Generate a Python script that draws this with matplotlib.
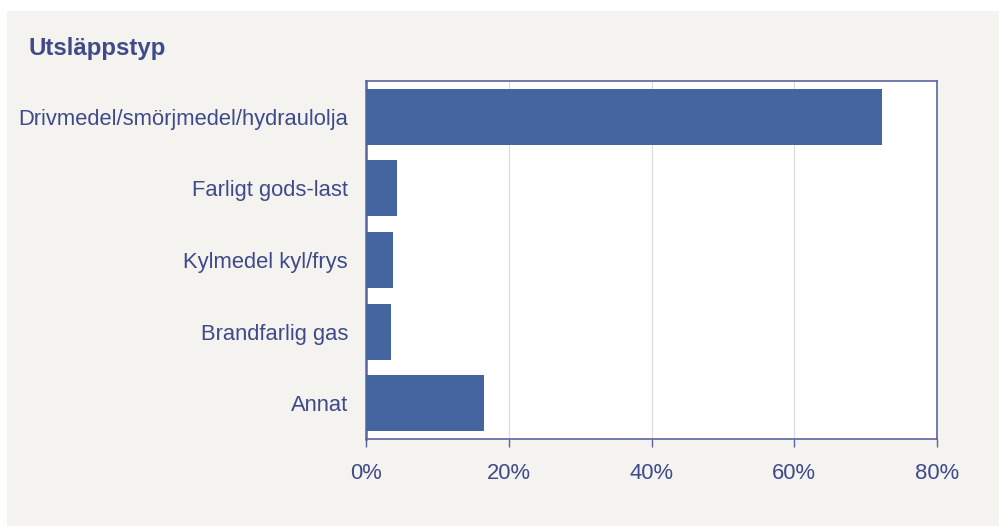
import matplotlib.pyplot as plt
import numpy as np

categories = ['Drivmedel/smörjmedel/hydraulolja', 'Farligt gods-last',
              'Kylmedel kyl/frys', 'Brandfarlig gas', 'Annat']
values = [72.3, 4.3, 3.8, 3.5, 16.5]
xticks = [0, 20, 40, 60, 80]
xtick_labels = ['0%', '20%', '40%', '60%', '80%']

bar_color = '#4565A0'
text_color = '#3F4A8A'
spine_color = '#5C64A0'
panel_color = '#F4F3EF'

plt.rcParams['font.family'] = ['Liberation Sans', 'DejaVu Sans']

fig = plt.figure(figsize=(9.99, 5.26), dpi=100)
fig.patch.set_facecolor('white')

# beige panel behind the chart
panel = plt.Rectangle((7 / 999, 0), 1 - 7 / 999, 1 - 11 / 526,
                      transform=fig.transFigure, facecolor=panel_color,
                      edgecolor='none', zorder=-10)
fig.patches.append(panel)

ax = fig.add_axes([366 / 999, 1 - 439 / 526, (937 - 366) / 999, (439 - 81) / 526])
ax.set_zorder(1)
ax.set_facecolor('white')

y = np.arange(len(categories))
ax.barh(y, values, height=0.78, color=bar_color, zorder=3)

ax.set_xlim(0, 80)
ax.set_ylim(len(categories) - 0.5, -0.5)
ax.set_xticks(xticks)
ax.set_xticklabels(xtick_labels)
ax.set_yticks(y)
ax.set_yticklabels(categories)

ax.grid(axis='x', color='#DCDCDC', linewidth=0.9, zorder=1)
ax.set_axisbelow(True)

for side in ['left', 'bottom', 'top', 'right']:
    ax.spines[side].set_color(spine_color)
    ax.spines[side].set_linewidth(1.2)
ax.spines['left'].set_linewidth(1.8)

ax.tick_params(axis='x', length=6, width=1, color=spine_color,
               colors=text_color, labelsize=15.8, pad=11)
ax.tick_params(axis='y', length=0, colors=text_color, labelsize=15.8, pad=13)
for lbl in ax.get_xticklabels() + ax.get_yticklabels():
    lbl.set_color(text_color)

fig.text(28 / 999, 1 - 48 / 526, 'Utsläppstyp', fontsize=17.3, fontweight='bold',
         color=text_color, ha='left', va='center')

fig.savefig('out.png', dpi=100, facecolor=fig.get_facecolor())
